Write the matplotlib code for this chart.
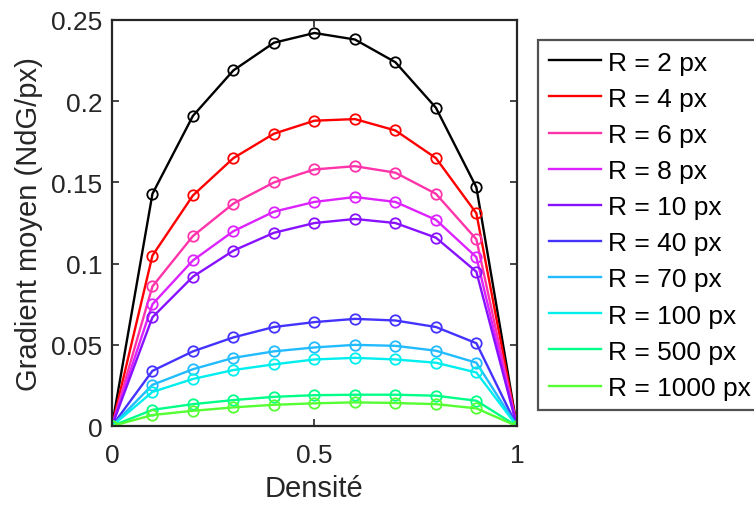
import numpy as np
import matplotlib
matplotlib.use("Agg")
import matplotlib.pyplot as plt

plt.rcParams['font.family'] = ['Liberation Sans', 'DejaVu Sans']

# densite (axe x)
densite = [0, 0.1, 0.2, 0.3, 0.4, 0.5, 0.6, 0.7, 0.8, 0.9, 1.0]

# gradient moyen, une liste par rayon
g_r2 = [0, 0.143, 0.191, 0.219, 0.236, 0.242, 0.238, 0.224, 0.196, 0.147, 0]
g_r4 = [0, 0.105, 0.142, 0.165, 0.180, 0.188, 0.189, 0.182, 0.165, 0.131, 0]
g_r6 = [0, 0.086, 0.117, 0.137, 0.150, 0.158, 0.160, 0.156, 0.143, 0.115, 0]
g_r8 = [0, 0.075, 0.102, 0.120, 0.132, 0.138, 0.141, 0.138, 0.127, 0.104, 0]
g_r10 = [0, 0.067, 0.092, 0.108, 0.119, 0.125, 0.1275, 0.125, 0.116, 0.095, 0]
g_r40 = [0, 0.034, 0.046, 0.0546, 0.061, 0.064, 0.066, 0.065, 0.061, 0.051, 0]
g_r70 = [0, 0.0254, 0.035, 0.042, 0.046, 0.0484, 0.050, 0.0494, 0.0464, 0.039, 0]
g_r100 = [0, 0.021, 0.029, 0.0345, 0.038, 0.041, 0.042, 0.041, 0.039, 0.033, 0]
g_r500 = [0, 0.010, 0.0135, 0.016, 0.018, 0.019, 0.0193, 0.0193, 0.0187, 0.0156, 0]
g_r1000 = [0, 0.0068, 0.0094, 0.0115, 0.0131, 0.014, 0.0146, 0.0142, 0.0135, 0.0109, 0]

labels = ['R = 2 px', 'R = 4 px', 'R = 6 px', 'R = 8 px', 'R = 10 px',
          'R = 40 px', 'R = 70 px', 'R = 100 px', 'R = 500 px', 'R = 1000 px']
series = [g_r2, g_r4, g_r6, g_r8, g_r10, g_r40, g_r70, g_r100, g_r500, g_r1000]
couleurs = ['#000000', '#ff0000', '#ff33aa', '#dd22ff', '#8811ff',
            '#4433ff', '#22bbff', '#00eeee', '#00ff88', '#55ff33']

fig = plt.figure(figsize=(7.54, 5.06), dpi=100)
ax = fig.add_axes([0.1485, 0.156, 0.537, 0.8025])

for y, c, lab in zip(series, couleurs, labels):
    ax.plot(densite, y, '-', color=c, lw=1.7, label=lab)
    ax.plot(densite, y, 'o', color=c, mfc='none', ms=7.5, mew=1.3)

ax.set_xlim(0, 1)
ax.set_ylim(0, 0.25)
ax.set_xticks([0, 0.5, 1])
ax.set_xticklabels(['0', '0.5', '1'])
ax.set_yticks([0, 0.05, 0.1, 0.15, 0.2, 0.25])
ax.set_yticklabels(['0', '0.05', '0.1', '0.15', '0.2', '0.25'])
ax.tick_params(direction='in', top=True, right=True, length=5, width=1.2,
               labelsize=19, colors='#262626', labelcolor='#262626')
ax.tick_params(axis='x', pad=12)
ax.tick_params(axis='y', pad=7)
for s in ax.spines.values():
    s.set_linewidth(1.6)
    s.set_color('#262626')

ax.set_xlabel('Densité', fontsize=21, color='#262626', labelpad=5)
ax.set_ylabel('Gradient moyen (NdG/px)', fontsize=21, color='#262626', labelpad=6)

leg = fig.legend(loc='upper left', bbox_to_anchor=(0.7135, 0.919),
                 bbox_transform=fig.transFigure, fontsize=19, frameon=True,
                 fancybox=False, edgecolor='#262626', handlelength=1.97,
                 handletextpad=0.27, labelspacing=0.46, borderpad=0.4,
                 borderaxespad=0)
leg.get_frame().set_linewidth(1.6)

fig.savefig('out.png', dpi=100)
